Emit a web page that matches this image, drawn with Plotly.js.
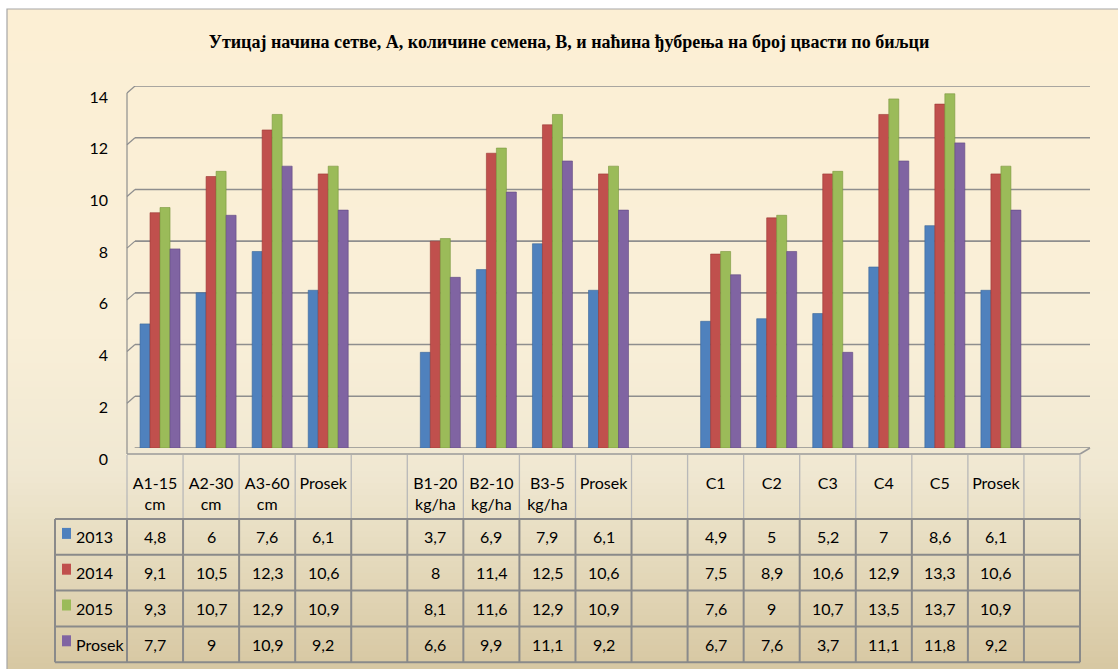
<!DOCTYPE html>
<html>
<head>
<meta charset="utf-8">
<script src="https://cdn.plot.ly/plotly-3.0.1.min.js"></script>
<style>html,body{margin:0;padding:0;background:#fff;}#chart{width:1118px;height:669px;}</style>
</head>
<body>
<div id="chart"></div>
<script>
// ---- data ----
const categories = ['A1-15<br>cm','A2-30<br>cm','A3-60<br>cm','Prosek','','B1-20<br>kg/ha','B2-10<br>kg/ha','B3-5<br>kg/ha','Prosek','','C1','C2','C3','C4','C5','Prosek',''];
const seriesNames = ['2013','2014','2015','Prosek'];
const v2013   = [4.8, 6,    7.6,  6.1,  null, 3.7, 6.9,  7.9,  6.1,  null, 4.9, 5,   5.2,  7,    8.6,  6.1,  null];
const v2014   = [9.1, 10.5, 12.3, 10.6, null, 8,   11.4, 12.5, 10.6, null, 7.5, 8.9, 10.6, 12.9, 13.3, 10.6, null];
const v2015   = [9.3, 10.7, 12.9, 10.9, null, 8.1, 11.6, 12.9, 10.9, null, 7.6, 9,   10.7, 13.5, 13.7, 10.9, null];
const vProsek = [7.7, 9,    10.9, 9.2,  null, 6.6, 9.9,  11.1, 9.2,  null, 6.7, 7.6, 3.7,  11.1, 11.8, 9.2,  null];
const titleText = 'Утицај начина сетве, А, количине семена, В, и нaћина ђубрења на број цвасти по биљци';

// ---- styling ----
const seriesValues = [v2013, v2014, v2015, vProsek];
const colors = ['#4F81BD','#C0504D','#9BBB59','#8064A2'];
const edge   = ['#3A6699','#9A3532','#78963D','#5F4882'];

const W = 1118, H = 669;
const ML = 127, MR = 38, MT = 86, MB = 221;
const PW = W - ML - MR, PH = H - MT - MB;
const X = px => (px - ML) / PW;          // pixel -> paper x
const Y = py => (H - MB - py) / PH;      // pixel -> paper y
const colW = PW / categories.length;
const colX = i => ML + colW * i;

const xIdx = categories.map((c, i) => i);
const barW = 10 / colW;
const shiftX = 5 / colW;

const traces = seriesValues.map((vals, k) => ({
  type: 'bar',
  name: seriesNames[k],
  x: xIdx,
  y: vals,
  width: barW,
  offset: -2 * barW + k * barW + shiftX,
  marker: {color: colors[k], line: {color: edge[k], width: 0.6}},
  showlegend: false,
  hovertemplate: seriesNames[k] + ': %{y}<extra></extra>'
}));

const shapes = [];
// background gradient bands inside the frame
function mix(a, b, t) { return a.map((v, i) => Math.round(v + (b[i] - v) * t)); }
const stops = [[9, [252,239,212]], [330, [249,239,216]], [470, [240,232,210]], [669, [215,200,162]]];
function colAt(py) {
  for (let s = 0; s < stops.length - 1; s++) {
    if (py <= stops[s+1][0]) {
      const t = (py - stops[s][0]) / (stops[s+1][0] - stops[s][0]);
      return mix(stops[s][1], stops[s+1][1], Math.max(0, Math.min(1, t)));
    }
  }
  return stops[stops.length-1][1];
}
const bandH = 6;
for (let py = 9; py < H + 5; py += bandH) {
  const c = colAt(py + bandH / 2);
  shapes.push({type: 'rect', xref: 'paper', yref: 'paper', layer: 'below',
    x0: X(7), x1: X(W + 10), y0: Y(py), y1: Y(py + bandH + 0.5),
    fillcolor: `rgb(${c[0]},${c[1]},${c[2]})`, line: {width: 0}});
}
// frame
shapes.push({type: 'rect', xref: 'paper', yref: 'paper', layer: 'below',
  x0: X(7), x1: X(W + 10), y0: Y(9), y1: Y(H + 10), line: {color: '#A6A6A6', width: 1.2}});

// 3D-like back wall gridlines
const gridCol = '#8E8E8E';
const yScale = PH / 14;
for (let v = 0; v <= 14; v += 2) {
  shapes.push({type: 'line', xref: 'paper', yref: 'y', layer: 'below',
    x0: X(135), x1: X(1090), y0: v, y1: v, line: {color: gridCol, width: 1.6}});
  shapes.push({type: 'line', xref: 'paper', yref: 'y', layer: 'below',
    x0: X(127), x1: X(135), y0: v - 7 / yScale, y1: v, line: {color: gridCol, width: 1.2}});
}
// left wall vertical
shapes.push({type: 'line', xref: 'paper', yref: 'paper', layer: 'below',
  x0: X(127), x1: X(127), y0: Y(93), y1: Y(454), line: {color: gridCol, width: 1.2}});
// floor front edge
shapes.push({type: 'line', xref: 'paper', yref: 'paper', layer: 'below',
  x0: X(127), x1: X(1080), y0: Y(454), y1: Y(454), line: {color: '#9A9A9A', width: 1.6}});
shapes.push({type: 'line', xref: 'paper', yref: 'paper', layer: 'below',
  x0: X(1080), x1: X(1090), y0: Y(454), y1: Y(448), line: {color: '#9A9A9A', width: 1.6}});

// table: header verticals
for (let i = 0; i <= categories.length; i++) {
  shapes.push({type: 'line', xref: 'paper', yref: 'paper',
    x0: X(colX(i)), x1: X(colX(i)), y0: Y(455), y1: Y(519), line: {color: '#B8B8B8', width: 1.3}});
}
// table: data rows
const rowTop = 519, rowH = 35.8;
const tblLeft = 55;
for (let r = 0; r <= seriesNames.length; r++) {
  const py = rowTop + r * rowH;
  shapes.push({type: 'line', xref: 'paper', yref: 'paper',
    x0: X(tblLeft), x1: X(colX(categories.length)), y0: Y(py), y1: Y(py), line: {color: '#8A8A8A', width: 2}});
}
const vxs = [tblLeft].concat(categories.map((c, i) => colX(i))).concat([colX(categories.length)]);
vxs.forEach(px => shapes.push({type: 'line', xref: 'paper', yref: 'paper',
  x0: X(px), x1: X(px), y0: Y(rowTop), y1: Y(rowTop + rowH * seriesNames.length), line: {color: '#8A8A8A', width: 2}}));

// legend keys + table annotations
const annotations = [];
const tFont = {family: 'Lato, Calibri, sans-serif', size: 16, color: '#000'};
seriesNames.forEach((name, r) => {
  const cy = rowTop + r * rowH + rowH / 2;
  shapes.push({type: 'rect', xref: 'paper', yref: 'paper',
    x0: X(62), x1: X(71), y0: Y(cy - 9), y1: Y(cy + 2), fillcolor: colors[r], line: {width: 0}});
  annotations.push({xref: 'paper', yref: 'paper', x: X(74), y: Y(cy), xanchor: 'left', yanchor: 'middle',
    text: name, showarrow: false, font: tFont});
  seriesValues[r].forEach((v, i) => {
    if (v === null) return;
    annotations.push({xref: 'x', yref: 'paper', x: i, y: Y(cy), xanchor: 'center', yanchor: 'middle',
      text: String(v).replace('.', ','), showarrow: false, font: tFont});
  });
});

const layout = {
  width: W, height: H,
  margin: {l: ML, r: MR, t: MT, b: MB, pad: 0},
  paper_bgcolor: '#FFFFFF',
  plot_bgcolor: 'rgba(0,0,0,0)',
  barmode: 'group',
  title: {text: '<b>' + titleText + '</b>', x: X(569), xanchor: 'center', xref: 'paper',
    y: 1 - 42 / H, yanchor: 'middle', yref: 'container',
    font: {family: 'Liberation Serif, Times New Roman, serif', size: 18, color: '#000'}},
  xaxis: {range: [-0.5, categories.length - 0.5], tickmode: 'array', tickvals: xIdx, ticktext: categories,
    showgrid: false, zeroline: false, showline: false, ticks: '', ticklabelstandoff: 24,
    tickfont: tFont, fixedrange: true},
  yaxis: {range: [0, 14], dtick: 2, tick0: 0, showgrid: false, zeroline: false, showline: false, ticks: '',
    ticklabelstandoff: 18, ticklabelshift: 11, tickfont: tFont, fixedrange: true},
  shapes: shapes,
  annotations: annotations,
  showlegend: false
};

Plotly.newPlot('chart', traces, layout, {displayModeBar: false, staticPlot: true});
</script>
</body>
</html>
